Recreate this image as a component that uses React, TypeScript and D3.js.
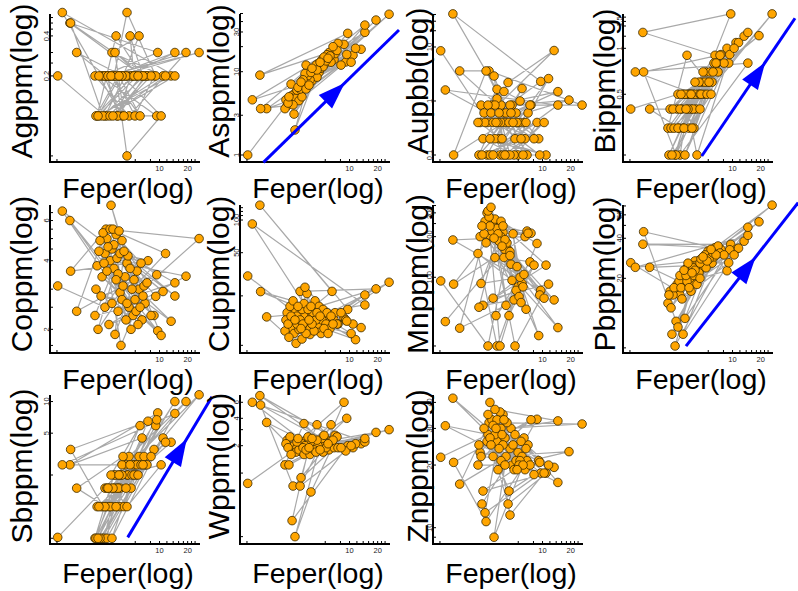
import React from 'react';
import * as d3 from 'd3';

// Shared sample x values (Fe per cent), in sample order
const FE = [0.815, 2.61, 4.28, 13.3, 2.15, 3.43, 6.50, 1.10, 9.57, 2.43,
  3.78, 2.96, 19.2, 4.72, 2.04, 3.26, 5.47, 8.73, 2.55, 3.97,
  0.913, 14.6, 2.74, 3.51, 4.96, 2.31, 10.9, 3.10, 6.04, 4.07,
  1.30, 2.68, 26.5, 3.60, 2.09, 5.21, 2.88, 9.11, 4.49, 3.26,
  6.83, 2.49, 1.12, 7.53, 3.78, 2.20, 5.75, 3.10, 14.6, 4.60,
  2.74, 3.60, 7.00, 2.37, 9.34, 4.17, 3.34, 6.34, 2.96, 11.6,
  5.08, 2.61, 3.87, 7.35, 3.18, 8.11, 4.38, 2.81, 5.61, 3.43,
  4.49, 10.4, 3.97, 3.03, 6.19, 3.69, 5.34, 4.84, 6.66, 5.89, 2.25];

const AG = [0.2, 0.1, 0.2, 0.2, 0.1, 0.4, 0.2, 0.5, 0.3, 0.2,
  0.2, 0.2, 0.3, 0.1, 0.2, 0.2, 0.1, 0.2, 0.2, 0.1,
  0.6, 0.2, 0.1, 0.1, 0.2, 0.1, 0.2, 0.3, 0.4, 0.2,
  0.3, 0.2, 0.3, 0.2, 0.1, 0.2, 0.2, 0.2, 0.6, 0.2,
  0.2, 0.1, 0.5, 0.2, 0.2, 0.1, 0.2, 0.2, 0.3, 0.2,
  0.2, 0.1, 0.2, 0.2, 0.1, 0.1, 0.3, 0.2, 0.1, 0.2,
  0.2, 0.2, 0.2, 0.2, 0.1, 0.2, 0.2, 0.2, 0.2, 0.2,
  0.05, 0.1, 0.2, 0.2, 0.1, 0.2, 0.2, 0.4, 0.2, 0.2, 0.2];

const AS = [1.0, 5.5, 9.2, 18.6, 3.9, 12, 17.4, 9.1, 28.9, 5.2,
  10, 5.8, 41.7, 9.8, 3.6, 6.6, 12.5, 21.3, 3.1, 7.8,
  4.6, 29.7, 5.3, 8.5, 11, 4.4, 15.8, 6.8, 17, 8.8,
  3.6, 4.8, 49, 7.3, 4.6, 11.5, 4.5, 13.1, 8.6, 7.0,
  14, 4.0, 3.6, 21.9, 8.0, 4.2, 16, 5.0, 36.3, 12.5,
  6.0, 9.0, 16.5, 7.1, 16.1, 10.5, 9.5, 13, 6.2, 19.1,
  14, 2.0, 9.8, 18, 8.0, 12, 12, 6.5, 13.5, 6.2,
  10.5, 13, 11, 7.5, 15.5, 6.9, 15, 13, 20, 14.5, 5.0];

const AU = [8.5, 0.4, 2.2, 8.6, 0.4, 0.2, 0.2, 41, 2.3, 0.4,
  0.6, 0.4, 1.04, 0.84, 0.4, 1.65, 0.1, 0.4, 0.1, 0.4,
  1.6, 0.84, 0.1, 0.1, 0.1, 0.2, 0.1, 0.2, 1.7, 0.6,
  3.6, 3.6, 0.84, 0.84, 0.1, 0.6, 0.84, 0.2, 0.84, 1.1,
  0.1, 3.6, 0.1, 0.84, 0.1, 0.84, 1.0, 0.84, 1.49, 0.6,
  0.2, 0.4, 0.6, 0.6, 0.1, 0.1, 0.4, 0.4, 0.1, 2.6,
  0.2, 0.84, 1.5, 0.84, 0.4, 0.2, 0.4, 0.6, 0.4, 0.6,
  0.1, 0.4, 0.1, 2.9, 0.1, 0.2, 0.4, 0.4, 0.4, 0.2, 0.1];

const BI = [0.4, 0.5, 0.5, 1.2, 0.4, 0.5, 0.9, 1.27, 1.68, 0.2,
  0.5, 0.5, 1.21, 0.6, 0.3, 0.9, 0.6, 1.0, 0.4, 0.5,
  0.7, 0.8, 0.2, 0.5, 0.5, 0.4, 1.09, 0.2, 0.6, 0.4,
  0.4, 0.3, 1.68, 0.4, 0.2, 0.7, 0.4, 0.8, 0.5, 0.5,
  0.8, 0.2, 0.7, 0.91, 0.4, 0.3, 0.7, 0.5, 1.27, 0.5,
  0.4, 0.5, 0.7, 0.3, 0.91, 0.2, 0.4, 0.8, 0.3, 1.09,
  0.6, 0.3, 0.3, 0.9, 0.4, 0.8, 0.6, 0.5, 0.6, 0.3,
  0.4, 1.0, 0.6, 0.3, 0.7, 0.3, 0.5, 0.7, 0.8, 0.5, 0.2];

const CO = [3.1, 2.5, 3.4, 2.17, 3.8, 5.2, 2.2, 6.0, 1.97, 3.4,
  2.9, 4.0, 3.42, 2.5, 2.3, 3.7, 2.7, 2.3, 3.9, 2.7,
  6.6, 2.8, 5.0, 4.1, 2.0, 4.9, 2.93, 4.5, 3.0, 3.1,
  2.4, 5.5, 5.0, 2.4, 3.0, 2.3, 2.1, 2.79, 3.9, 4.7,
  3.1, 5.3, 3.6, 4.0, 4.3, 2.0, 3.6, 2.6, 3.2, 4.2,
  3.6, 3.5, 2.6, 2.8, 3.47, 4.4, 1.9, 3.9, 5.5, 4.3,
  3.0, 4.3, 1.7, 3.2, 5.5, 2.3, 2.2, 4.6, 2.4, 3.3,
  2.6, 1.88, 4.9, 7.0, 2.5, 5.4, 3.3, 3.7, 2.8, 2.1, 4.4];

const CU = [30.5, 14, 18, 10.2, 14, 14, 22, 137, 15, 10,
  8.8, 22, 23.2, 16, 9.5, 13, 13, 12.5, 9.0, 13,
  92, 16.5, 13, 21, 9.0, 16, 11, 15, 12, 14,
  12.8, 7.3, 26.7, 11, 12, 15, 9.8, 12, 10, 17,
  12, 18, 21.9, 11, 10, 11, 14, 8.0, 20.4, 11,
  11, 15, 14, 13, 11.7, 9.5, 24, 13, 12, 7.9,
  12, 12, 16, 11, 11, 14, 12, 16, 11, 9.0,
  14, 9, 11, 10, 10, 12, 10, 13, 11, 9.0, 8.3];

const MN = [94, 31, 160, 68, 200, 250, 200, 189, 80, 260,
  215, 240, null, 95, 150, 31, 85, 178, 300, 160,
  47, null, 205, 31, 68, 62, 123, 270, 90, 62,
  42, 280, null, 260, 60, 80, 220, 37, 155, 230,
  220, 180, 89, 212, 240, 90, 100, 140, 42.4, 125,
  240, 200, 212, 210, 74, 180, 210, 105, 70, 89,
  31, 310, 140, 130, 52, 123, 52, 330, 72, 185,
  145, 70, 190, 195, 85, 170, 120, 210, 58, 65, 240];

const PB = [26.2, 16, 27, 38, 16, 22, 34, 36.1, 36, 6.2,
  19, 20, 53.2, 24, 13, 24, 32, 22.8, 18, 27,
  24.2, 42.1, 15, 20, 26, 15, 33, 18, 26, 25,
  24.2, 19, 71, 25, 15, 24, 14, 26.2, 26, 19,
  32, 9.5, 44.8, 33, 24, 12, 30, 10, 48.4, 28,
  21, 16, 35, 17, 32.8, 18, 26, 29, 7.6, 33.7,
  30, 8.6, 21, 31, 21, 30, 22, 17, 28, 17,
  20, 30, 23, 23, 31, 22, 27, 29, 30, 33, 7.6];

const SB = [0.51, 1.5, 2.5, 4.1, 1.0, 1.0, 4.5, 2.5, 7.8, 0.5,
  1.0, 1.5, 10, 3.0, 0.5, 2.0, 2.5, 3.5, 0.5, 2.5,
  2.5, 7.7, 0.5, 1.5, 1.5, 0.5, 4.5, 0.5, 3.0, 3.0,
  1.5, 1.0, 11.6, 2.0, 0.5, 2.5, 1.0, 5.9, 2.0, 1.5,
  3.0, 1.0, 3.5, 6.5, 1.5, 0.5, 2.5, 1.0, 10, 2.0,
  1.5, 1.5, 2.5, 1.0, 6.7, 1.0, 2.0, 2.5, 1.0, 4.1,
  2.0, 1.0, 2.0, 2.5, 1.5, 3.0, 1.5, 1.5, 2.0, 1.0,
  1.0, 2.5, 2.0, 2.0, 5.9, 2.0, 2.0, 2.5, 2.5, 2.0, 1.0];

const W = [0.77, 1.8, 2.1, 2.1, 2.3, 2.3, 2.0, 7.1, 2.0, 0.3,
  2.2, 2.0, 2.8, 1.9, 1.23, 3.5, 2.0, 6.0, 2.0, 1.9,
  6.0, 2.2, 1.9, 2.1, 2.2, 2.5, 1.9, 1.7, 1.8, 2.0,
  3.6, 1.7, 3.0, 1.7, 2.1, 1.7, 1.8, 1.75, 3.4, 1.6,
  1.9, 0.72, 5.6, 1.9, 1.6, 1.9, 2.3, 2.1, 2.4, 2.0,
  2.2, 2.5, 2.6, 1.6, 4.0, 1.8, 2.0, 3.4, 0.72, 2.1,
  2.4, 0.2, 0.62, 2.5, 1.9, 1.9, 1.7, 2.4, 1.9, 1.8,
  2.3, 2.0, 2.4, 0.89, 2.2, 1.9, 2.6, 1.8, 2.3, 2.1, 1.23];

const ZN = [21.8, 28, 13, 19.5, 23, 29, 19, 41.9, 18.3, 11.8,
  35, 22, 23.2, 20, 20, 26, 23, 33.2, 26, 27,
  30.9, 16.5, 40, 36, 19, 15, 18.3, 28, 22, 22,
  16.2, 32, 31.5, 30, 25, 21, 33, 21, 24, 33,
  21, 10.7, 20.6, 33, 25, 22, 21, 37, 32.6, 30,
  27, 21, 25, 30, 20.6, 32, 19, 27, 31, 20,
  28, 35, 33, 20, 30, 18, 15, 25, 20, 24,
  11.5, 18.3, 20, 9.0, 20, 28, 19, 25, 24, 26, 13];

const X_LABEL = 'Feper(log)';
const X_DOMAIN = [0.674, 27.1];
const X_TICKS = [0.8, 5.5, 8, 10, 12, 14, 16, 18, 20, 22, 24];
const X_TICK_LABELS = [10, 20];

const Y_LABELS = ['Agppm(log)', 'Asppm(log)', 'Aupbb(log)', 'Bippm(log)', 'Coppm(log)', 'Cuppm(log)',
  'Mnppm(log)', 'Pbppm(log)', 'Sbppm(log)', 'Wppm(log)', 'Znppm(log)'];
const Y_VALUES = [AG, AS, AU, BI, CO, CU, MN, PB, SB, W, ZN];
const Y_DOMAINS = [[0.045, 0.595], [0.824, 50.7], [0.0742, 42.6], [0.18, 1.703], [1.575, 7.09], [5.95, 140.5],
  [27.5, 349], [5.49, 72.4], [0.441, 11.8], [0.166, 7.4], [8.35, 43.9]];
const Y_TICKS = [
  [0.05, 0.2, 0.25, 0.3, 0.4, 0.45, 0.5, 0.55],
  [1, 3, 10, 20, 30, 40, 50],
  [0.1, 1, 10, 20, 30, 40],
  [0.2, 0.5, 1, 1.2, 1.4, 1.5, 1.6],
  [1.7, 2, 2.5, 3, 4, 4.5, 5, 5.5, 6, 6.5],
  [7, 20, 50, 100, 110, 120, 130],
  [31, 100, 200, 250, 300, 340],
  [6, 20, 40, 50, 60, 70],
  [0.5, 2, 5, 10],
  [0.2, 1, 2, 3, 4, 6],
  [9, 10, 20, 30, 40],
];
const Y_TICK_LABELS = [[0.2, 0.4], [1, 3, 10, 30], [0.1, 1, 10], [0.5, 1, 1.5], [2, 4, 6], [50, 100],
  [100, 200, 300], [20, 40, 60], [5, 10], [2, 4, 6], [10, 20, 30, 40]];

// Trend arrows: [panel index, x1, y1, x2, y2, head position along the arrow]
const ARROWS = [
  [1, 1.2, 0.817, 33.8, 31.7, 0.6],
  [3, 4.69, 0.197, 46.6, 1.573, 0.68],
  [7, 3.18, 6.19, 50.3, 74.1, 0.62],
  [8, 4.57, 0.51, 36.4, 11.1, 0.70],
];

// layout
const COL_LEFT = [50, 240, 433, 623];
const ROW_TOP = [13, 204, 394];
const ROW_BOTTOM = [162, 353, 544];
const PLOT_W = 150;
const YLAB_X = [32, 229, 428, 615];
const YLAB_Y = [81, 274, 466];
const XLAB_Y = [198, 389, 583];
const FONT = "'Liberation Sans', Arial, Helvetica, sans-serif";

function fmt(v: number) {
  return String(v);
}

function Panel({ idx }: { idx: number }) {
  const col = idx % 4;
  const row = Math.floor(idx / 4);
  const L = COL_LEFT[col];
  const top = ROW_TOP[row];
  const bottom = ROW_BOTTOM[row];
  const x = d3.scaleLog().domain(X_DOMAIN).range([L, L + PLOT_W]);
  const y = d3.scaleLog().domain(Y_DOMAINS[idx]).range([bottom, top]);
  const vals = Y_VALUES[idx];
  const pts = FE.map((fe, i) => ({ fe, v: vals[i] as number | null }));
  const line = d3.line<{ fe: number; v: number | null }>()
    .defined((d) => d.v != null)
    .x((d) => x(d.fe))
    .y((d) => y(d.v as number));
  const arrows = ARROWS.filter((a) => a[0] === idx);
  return (
    <g>
      <path d={line(pts) || ''} fill="none" stroke="#a9a9a9" strokeWidth={1.2} />
      {pts.filter((p) => p.v != null).map((p, i) => (
        <circle key={i} cx={x(p.fe)} cy={y(p.v as number)} r={4.3} fill="#FFA500" stroke="#3a2a00" strokeWidth={0.8} />
      ))}
      {/* axes */}
      <line x1={L} x2={L} y1={top + 1} y2={bottom} stroke="#000" strokeWidth={2} />
      <line x1={L - 1} x2={L + PLOT_W} y1={bottom} y2={bottom} stroke="#000" strokeWidth={2} />
      {X_TICKS.map((t) => (
        <line key={'xt' + t} x1={x(t)} x2={x(t)} y1={bottom} y2={bottom - 3} stroke="#000" strokeWidth={1} />
      ))}
      {X_TICK_LABELS.map((t) => (
        <text key={'xl' + t} x={x(t)} y={bottom + 9} fontSize={7.5} textAnchor="middle" fill="#222" fontFamily={FONT}>{fmt(t)}</text>
      ))}
      {Y_TICKS[idx].map((t) => (
        <line key={'yt' + t} x1={L} x2={L + 3} y1={y(t)} y2={y(t)} stroke="#000" strokeWidth={1} />
      ))}
      {Y_TICK_LABELS[idx].map((t) => (
        <text key={'yl' + t} transform={`translate(${L - 1.5},${y(t)}) rotate(-90)`} fontSize={7.5} textAnchor="middle" fill="#222" fontFamily={FONT}>{fmt(t)}</text>
      ))}
      {/* labels */}
      <text transform={`translate(${YLAB_X[col]},${YLAB_Y[row]}) rotate(-90)`} fontSize={30} textAnchor="middle" fill="#000" fontFamily={FONT}>{Y_LABELS[idx]}</text>
      <text x={L + 78} y={XLAB_Y[row]} fontSize={28.5} textAnchor="middle" fill="#000" fontFamily={FONT}>{X_LABEL}</text>
      {arrows.map((a, i) => {
        const x1 = x(a[1]), y1 = y(a[2]), x2 = x(a[3]), y2 = y(a[4]);
        const t = a[5];
        const dx = x2 - x1, dy = y2 - y1;
        const len = Math.hypot(dx, dy);
        const ux = dx / len, uy = dy / len;
        const tx = x1 + dx * t, ty = y1 + dy * t;
        const bx = tx - ux * 27, by = ty - uy * 27;
        const px = -uy * 9.5, py = ux * 9.5;
        return (
          <g key={'ar' + i}>
            <line x1={x1} y1={y1} x2={x2} y2={y2} stroke="#0000FF" strokeWidth={3} />
            <path d={`M${tx},${ty}L${bx + px},${by + py}L${bx - px},${by - py}Z`} fill="#0000FF" />
          </g>
        );
      })}
    </g>
  );
}

export default function App() {
  return (
    <svg width={798} height={591} viewBox="0 0 798 591" style={{ position: 'absolute', left: 0, top: 0, background: '#fff' }}>
      <rect x={0} y={0} width={798} height={591} fill="#fff" />
      {Y_LABELS.map((_, i) => <Panel key={i} idx={i} />)}
    </svg>
  );
}
